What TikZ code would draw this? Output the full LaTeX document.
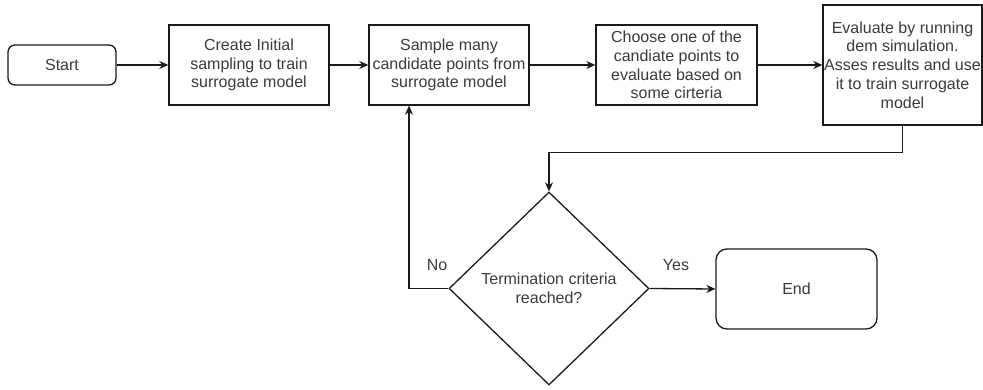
\documentclass[tikz,border=0pt]{standalone}
\usepackage{fontspec}
\setmainfont{Liberation Sans}
\usetikzlibrary{shapes.geometric,arrows.meta}
\definecolor{linec}{HTML}{1A1A1A}
\definecolor{textc}{HTML}{3A3A3A}
\begin{document}
\begin{tikzpicture}[x=1pt,y=-1pt,
  every node/.style={font=\fontsize{16}{18.75}\selectfont, text=textc},
  proc/.style={draw=linec, line width=1.3pt, rectangle, align=center, inner sep=1pt},
  term/.style={proc, rounded corners=7pt},
  decide/.style={draw=linec, line width=1.3pt, diamond, align=center, inner sep=0pt, minimum width=200pt, minimum height=193pt},
  flow/.style={draw=linec, line width=1.3pt, -{Stealth[length=9pt,width=8pt]}},
  lbl/.style={inner sep=0pt}]
\useasboundingbox (0,0) rectangle (983,390);
\node[term, minimum width=108pt, minimum height=40pt] (start) at (62,65) {Start};
\node[proc, minimum width=160pt, minimum height=80pt] (b1) at (249,65) {Create Initial\\sampling to train\\surrogate model};
\node[proc, minimum width=160pt, minimum height=80pt] (b2) at (449,65) {Sample many\\candidate points from\\surrogate model};
\node[proc, minimum width=161pt, minimum height=80pt] (b3) at (676.5,65) {Choose one of the\\candiate points to\\evaluate based on\\some cirteria};
\node[proc, minimum width=159pt, minimum height=120pt] (b4) at (902.5,65) {Evaluate by running\\dem simulation.\\Asses results and use\\it to train surrogate\\model};
\node[decide] (dia) at (549,288.5) {Termination criteria\\reached?};
\node[term, rounded corners=11pt, minimum width=161pt, minimum height=80pt] (end) at (796.5,289) {End};
\coordinate (nocorner) at (409,288.5);
\draw[flow] (start) -- (b1);
\draw[flow] (b1) -- (b2);
\draw[flow] (b2) -- (b3);
\draw[flow] (b3) -- (b4);
\draw[flow] (b4.south) -- ++(0,27) -| (dia.north);
\draw[flow] (dia.west) -- (nocorner) -- (nocorner |- b2.south);
\draw[flow] (dia.east) -- (end.west);
\node[lbl] (no) at (437,265) {No};
\node[lbl] (yes) at (676,265) {Yes};
\end{tikzpicture}
\end{document}
